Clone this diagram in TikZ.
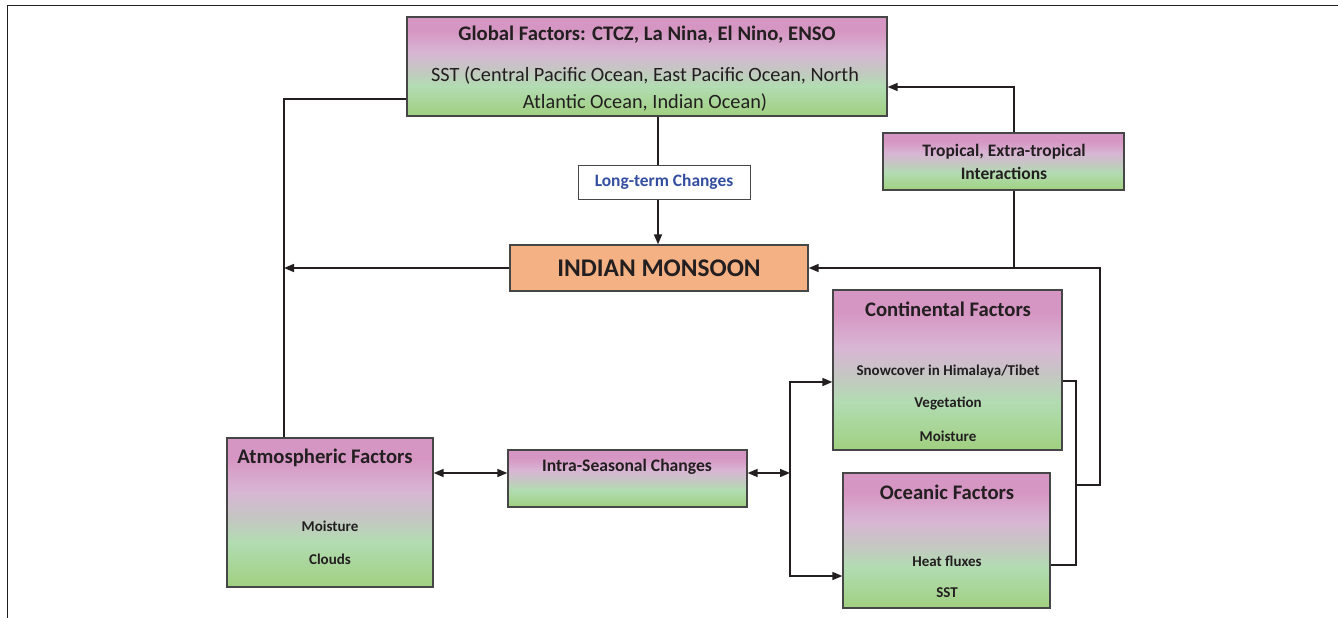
\documentclass[tikz,border=0pt]{standalone}
\usepackage{fontspec}
\setmainfont{Carlito}
\usetikzlibrary{arrows.meta,fit}

\definecolor{pinktop}{RGB}{214,150,195}
\definecolor{lavmid}{RGB}{216,182,212}
\definecolor{greymid}{RGB}{196,199,194}
\definecolor{grnpale}{RGB}{178,220,178}
\definecolor{grnbot}{RGB}{160,208,128}
\definecolor{orangefill}{RGB}{244,177,131}
\definecolor{lineblack}{RGB}{35,31,32}
\definecolor{boxedge}{RGB}{70,70,70}
\definecolor{termblue}{RGB}{52,78,160}

\pgfdeclareverticalshading{factorshade}{100bp}{color(0bp)=(grnbot); color(25bp)=(grnbot); color(40bp)=(grnpale); color(48bp)=(greymid); color(57bp)=(lavmid); color(68bp)=(pinktop); color(75bp)=(pinktop); color(100bp)=(pinktop)}

\tikzset{
	factorbox/.style={draw=boxedge, line width=1.3pt, shading=factorshade, inner sep=0pt},
	monsoonbox/.style={draw=boxedge, line width=1.3pt, fill=orangefill, inner sep=0pt},
	termbox/.style={draw=boxedge, line width=1pt, fill=white, inner sep=0pt},
	link/.style={draw=lineblack, line width=1.6pt},
	arrow/.style={link, -{Triangle[length=10pt,width=8pt]}},
	dblarrow/.style={link, {Triangle[length=10pt,width=8pt]}-{Triangle[length=10pt,width=8pt]}},
	txt/.style={inner sep=0pt, text=lineblack, font=\bfseries\fontsize{15}{18}\selectfont},
	title/.style={txt, font=\bfseries\fontsize{20.7}{24}\selectfont}
}

\begin{document}
\begin{tikzpicture}[x=1pt, y=-1pt]
	\useasboundingbox (0,0) rectangle (1338,618);
	% Rahmen
	\draw[line width=1.6pt, draw=lineblack] (1338,5.5) -- (7.5,5.5) -- (7.5,618);
	% Kaesten
	\node[factorbox, fit={(407,17) (887,116)}] (global) {};
	\node[termbox, fit={(578,165) (750,199)}] (longterm) {};
	\node[monsoonbox, fit={(510,245) (808,291)}] (monsoon) {};
	\node[factorbox, fit={(883,133) (1124,190)}] (tropical) {};
	\node[factorbox, fit={(833,290) (1062,450)}] (contin) {};
	\node[factorbox, fit={(843,473) (1050,608)}] (ocean) {};
	\node[factorbox, fit={(227,438) (433,587)}] (atmos) {};
	\node[factorbox, fit={(508,450) (747,507)}] (intra) {};
	% Texte
	\node[title] (globaltitle) at (647,35) {Global Factors: CTCZ, La Nina, El Nino, ENSO};
	\node[txt, font=\fontsize{20.3}{27}\selectfont, align=center] (globalsst) at (645,88.5) {SST (Central Pacific Ocean, East Pacific Ocean, North\\Atlantic Ocean, Indian Ocean)};
	\node[txt, text=termblue, font=\bfseries\fontsize{17.4}{20}\selectfont] (longtermtext) at (664,182) {Long-term Changes};
	\node[txt, font=\bfseries\fontsize{25.4}{30}\selectfont] (monsoontext) at (659,268) {INDIAN MONSOON};
	\node[txt, align=center, font=\bfseries\fontsize{17.5}{23}\selectfont] (tropicaltext) at (1004,161.5) {Tropical, Extra-tropical\\Interactions};
	\node[title] (continitle) at (948,309) {Continental Factors};
	\node[txt] (snow) at (948,371) {Snowcover in Himalaya/Tibet};
	\node[txt] (veg) at (948,403) {Vegetation};
	\node[txt] (cmoist) at (948,436) {Moisture};
	\node[title] (oceantitle) at (947,492) {Oceanic Factors};
	\node[txt] (heat) at (947,561) {Heat fluxes};
	\node[txt] (sst) at (947,593) {SST};
	\node[title] (atmostitle) at (325,458) {Atmospheric Factors};
	\node[txt] (amoist) at (330,526) {Moisture};
	\node[txt] (clouds) at (330,559) {Clouds};
	\node[txt, font=\bfseries\fontsize{17.6}{20}\selectfont] (intratext) at (627,467) {Intra-Seasonal Changes};
	% Knickpunkte
	\coordinate (jA) at (284,99);
	\coordinate (jT) at (1014,87);
	\coordinate (jR) at (1100,485);
	\coordinate (jC) at (1076,381);
	\coordinate (jO) at (1076,565);
	\coordinate (jI) at (790,473);
	\coordinate (jCt) at (790,382);
	\coordinate (jOc) at (790,576);
	% Verbindungen
	\draw[link] (jA -| global.west) -- (jA) -- (jA |- atmos.north);
	\draw[arrow] (monsoon.west) -- (monsoon.west -| jA);
	\draw[link] (global.south -| 658,0) -- (longterm.north -| 658,0);
	\draw[arrow] (longterm.south -| 658,0) -- (monsoon.north -| 658,0);
	\draw[arrow] (tropical.north -| jT) -- (jT) -- (jT -| global.east);
	\draw[link] (tropical.south -| jT) -- (jT |- monsoon.east);
	\draw[arrow] (jR -| jO) -- (jR) -- (jR |- monsoon.east) -- (monsoon.east);
	\draw[link] (contin.east |- jC) -- (jC) -- (jO) -- (jO -| ocean.east);
	\draw[dblarrow] (atmos.east |- jI) -- (intra.west |- jI);
	\draw[dblarrow] (intra.east |- jI) -- (jI);
	\draw[arrow] (jI) -- (jCt) -- (jCt -| contin.west);
	\draw[arrow] (jI) -- (jOc) -- (jOc -| ocean.west);
\end{tikzpicture}
\end{document}
